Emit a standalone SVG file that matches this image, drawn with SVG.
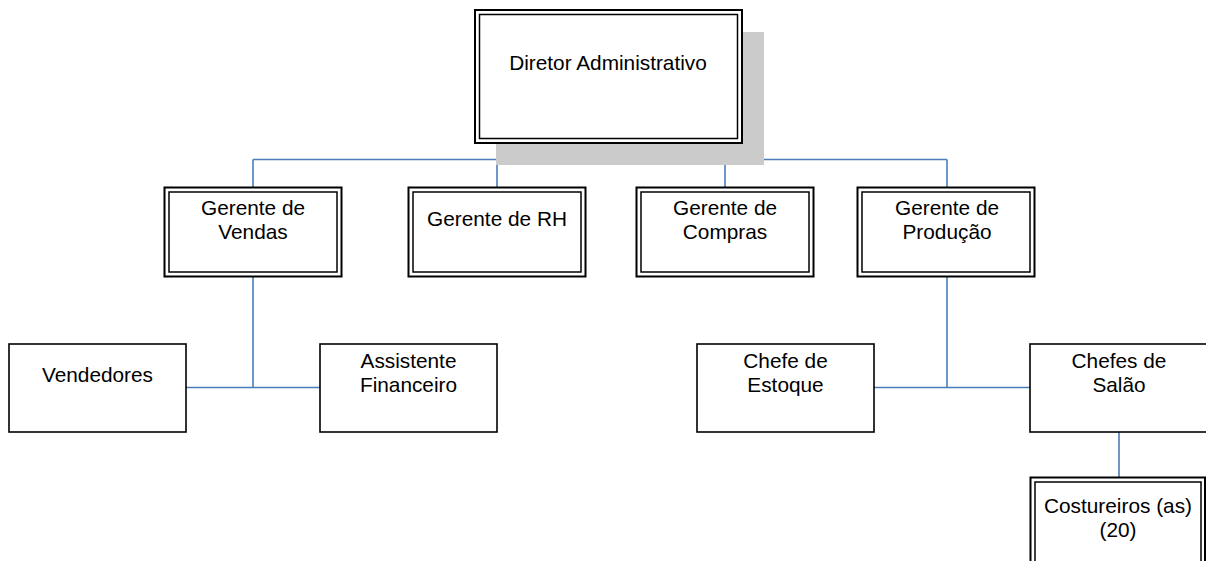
<svg xmlns="http://www.w3.org/2000/svg" width="1206" height="561" viewBox="0 0 1206 561">
<style>
.bg{fill:#ffffff}
.outer{fill:#ffffff;stroke:#000000;stroke-width:2}
.inner{fill:none;stroke:#000000;stroke-width:1.5}
.single{fill:#ffffff;stroke:#000000;stroke-width:1.6}
.shadow{fill:#cbcbcb}
.conn{fill:none;stroke:#4a7ebb;stroke-width:1.6}
text{font-family:"Liberation Sans",Arial,sans-serif;font-size:20.8px;fill:#000000;text-anchor:middle}
</style>
<rect class="bg" x="0" y="0" width="1206" height="561"/>
<g id="connectors">
<path class="conn" d="M608,143 V159.5 M253,159.5 H947 M253,159.5 V187 M497,159.5 V187 M725,159.5 V187 M947,159.5 V187"/>
<path class="conn" d="M253,277 V387.5 M186,387.5 H320"/>
<path class="conn" d="M947,277 V387.5 M874,387.5 H1030"/>
<path class="conn" d="M1119,432 V477"/>
</g>
<g id="diretor">
<rect class="shadow" x="496" y="32" width="268" height="133"/>
<rect class="outer" x="475" y="10" width="267" height="133"/>
<rect class="inner" x="479.5" y="14.5" width="258" height="124"/>
<text x="608" y="70">Diretor Administrativo</text>
</g>
<g id="gerente-vendas">
<rect class="outer" x="164.5" y="187.5" width="177" height="89"/>
<rect class="inner" x="169" y="192" width="168" height="80"/>
<text x="253" y="215">Gerente de</text>
<text x="253" y="238.5">Vendas</text>
</g>
<g id="gerente-rh">
<rect class="outer" x="408.5" y="187.5" width="177" height="89"/>
<rect class="inner" x="413" y="192" width="168" height="80"/>
<text x="497" y="226">Gerente de RH</text>
</g>
<g id="gerente-compras">
<rect class="outer" x="636.5" y="187.5" width="177" height="89"/>
<rect class="inner" x="641" y="192" width="168" height="80"/>
<text x="725" y="215">Gerente de</text>
<text x="725" y="238.5">Compras</text>
</g>
<g id="gerente-producao">
<rect class="outer" x="857.5" y="187.5" width="177" height="89"/>
<rect class="inner" x="862" y="192" width="168" height="80"/>
<text x="947" y="215">Gerente de</text>
<text x="947" y="238.5">Produção</text>
</g>
<g id="vendedores">
<rect class="single" x="9" y="344" width="177" height="88"/>
<text x="97.5" y="381.5">Vendedores</text>
</g>
<g id="assistente-financeiro">
<rect class="single" x="320" y="344" width="177" height="88"/>
<text x="408.5" y="368">Assistente</text>
<text x="408.5" y="392">Financeiro</text>
</g>
<g id="chefe-estoque">
<rect class="single" x="697" y="344" width="177" height="88"/>
<text x="785.5" y="368">Chefe de</text>
<text x="785.5" y="392">Estoque</text>
</g>
<g id="chefes-salao">
<rect class="single" x="1030" y="344" width="178" height="88"/>
<text x="1119" y="368">Chefes de</text>
<text x="1119" y="392">Salão</text>
</g>
<g id="costureiros">
<rect class="outer" x="1030.5" y="477.5" width="174.5" height="100"/>
<rect class="inner" x="1035" y="482" width="166" height="100"/>
<text x="1118" y="513">Costureiros (as)</text>
<text x="1118" y="537">(20)</text>
</g>
</svg>
